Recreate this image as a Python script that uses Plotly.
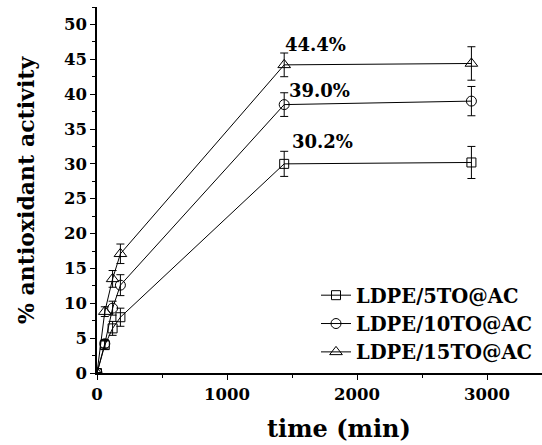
import plotly.graph_objects as go

time_min = [0, 60, 120, 180, 1440, 2880]

series_names = ["LDPE/5TO@AC", "LDPE/10TO@AC", "LDPE/15TO@AC"]
act_5 = [0, 4.0, 6.4, 8.0, 30.0, 30.2]
err_5 = [0, 0.6, 1.0, 1.3, 1.8, 2.3]
act_10 = [0, 4.2, 9.3, 12.6, 38.5, 39.0]
err_10 = [0, 0.6, 1.0, 1.5, 1.7, 2.1]
act_15 = [0, 8.8, 13.5, 17.1, 44.2, 44.4]
err_15 = [0, 0.7, 1.2, 1.4, 1.7, 2.4]

label_texts = ["30.2%", "39.0%", "44.4%"]
label_x = [1733, 1710, 1680]
label_y = [33.2, 40.5, 47.1]

x_ticks = [0, 1000, 2000, 3000]
y_ticks = [0, 5, 10, 15, 20, 25, 30, 35, 40, 45, 50]

symbols = ["square-open", "circle-open", "triangle-up-open"]
sizes = [9, 10, 11]

FONT = "DejaVu Serif"

fig = go.Figure()
for name, y, e, sym, sz in zip(series_names, [act_5, act_10, act_15],
                               [err_5, err_10, err_15], symbols, sizes):
    fig.add_trace(go.Scatter(
        x=time_min, y=y, name="<b>" + name + "</b>", mode="lines+markers",
        line=dict(color="black", width=1),
        marker=dict(symbol=sym, size=sz, color="black",
                    line=dict(color="black", width=1)),
        error_y=dict(type="data", array=e, visible=True,
                     color="black", thickness=1, width=4),
    ))

for t, x, y in zip(label_texts, label_x, label_y):
    fig.add_annotation(x=x, y=y, text="<b>" + t + "</b>", showarrow=False,
                       font=dict(family=FONT, size=18, color="black"))

fig.add_annotation(xref="paper", yref="paper", x=(339 - 97) / 445, y=-(428 - 373) / 366,
                   text="<b>time (min)</b>", showarrow=False, xanchor="center", yanchor="middle",
                   font=dict(family=FONT, size=24, color="black"))
fig.add_annotation(xref="paper", yref="paper", x=-(97 - 26) / 445, y=0.5,
                   text="<b>% antioxidant activity</b>", showarrow=False, textangle=-90,
                   xanchor="center", yanchor="middle",
                   font=dict(family=FONT, size=22, color="black"))

axis_common = dict(
    showline=True, linecolor="black", linewidth=1.5, mirror=False,
    ticks="outside", ticklen=5, tickwidth=1, tickcolor="black",
    showgrid=False, zeroline=False,
    tickfont=dict(family=FONT, size=16.5, color="black"),
)
fig.update_xaxes(range=[0, 3423], tickvals=x_ticks,
                 ticktext=["<b>%d</b>" % v for v in x_ticks],
                 minor=dict(ticks="outside", ticklen=3, tickcolor="black", dtick=500, tick0=0),
                 **axis_common)
fig.update_yaxes(range=[0, 52.5], tickvals=y_ticks,
                 ticktext=["<b>%d</b>" % v for v in y_ticks],
                 minor=dict(ticks="outside", ticklen=3, tickcolor="black", dtick=2.5, tick0=0),
                 **axis_common)

fig.update_layout(
    width=542, height=445,
    margin=dict(l=97, r=0, t=7, b=72),
    font=dict(family=FONT, color="black"),
    plot_bgcolor="white", paper_bgcolor="white",
    showlegend=True,
    legend=dict(x=(316 - 97) / 445, y=(373 - 276) / 366, xanchor="left", yanchor="top",
                bgcolor="rgba(0,0,0,0)",
                font=dict(family=FONT, size=19.5, color="black"),
                tracegroupgap=0),
)

fig.write_html("out.html")
